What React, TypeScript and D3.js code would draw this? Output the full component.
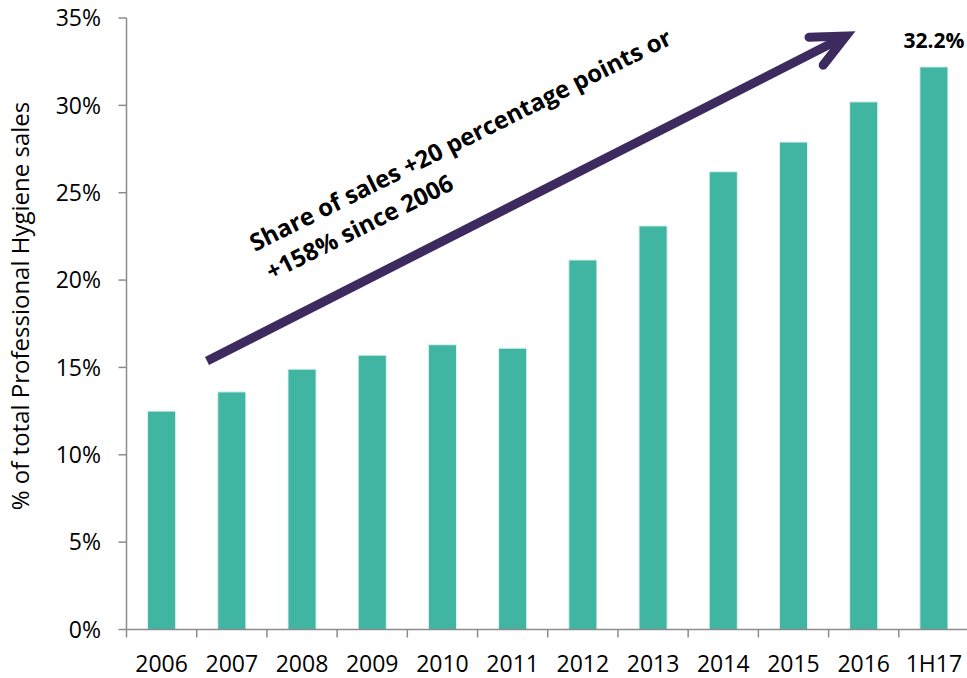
import React from "react";
import * as d3 from "d3";

const categories = ["2006", "2007", "2008", "2009", "2010", "2011", "2012", "2013", "2014", "2015", "2016", "1H17"];
const values = [12.5, 13.6, 14.9, 15.7, 16.3, 16.1, 21.15, 23.1, 26.2, 27.9, 30.2, 32.2];
const yTicks = [0, 5, 10, 15, 20, 25, 30, 35];
const yTitle = "% of total Professional Hygiene sales";
const annotationLines = ["Share of sales +20 percentage points or", "+158% since 2006"];
const lastLabel = "32.2%";

const W = 967;
const H = 678;
const FONT = "'Open Sans', sans-serif";
const BAR = "#40B5A2";
const AXIS = "#8c8c8c";
const ARROW = "#3D2A5E";

export default function App() {
  const x = d3.scaleBand<string>().domain(categories).range([126.5, 969]).paddingInner(0.6).paddingOuter(0.3);
  const y = d3.scaleLinear().domain([0, 35]).range([629.5, 18]);
  const step = x.step();
  const x0 = 126.5;

  // arrow geometry
  const start = [207, 361];
  const tip = [846, 36];
  const ang = Math.atan2(tip[1] - start[1], tip[0] - start[0]);
  const back = ang + Math.PI;
  const armLen = 37;
  const spread = (25 * Math.PI) / 180;
  const a1 = [tip[0] + armLen * Math.cos(back - spread), tip[1] + armLen * Math.sin(back - spread)];
  const a2 = [tip[0] + armLen * Math.cos(back + spread), tip[1] + armLen * Math.sin(back + spread)];
  const textAngle = -26.5;

  return (
    <svg width={W} height={H} style={{ position: "absolute", left: 0, top: 0 }} fontFamily={FONT}>
      {categories.map((c, i) => (
        <rect
          key={c}
          x={x(c)}
          y={y(values[i])}
          width={x.bandwidth()}
          height={y(0) - y(values[i])}
          fill={BAR}
          stroke="#dff1ee"
          strokeWidth={1}
        />
      ))}
      <line x1={x0} x2={x0} y1={y(35)} y2={y(0)} stroke={AXIS} strokeWidth={1.5} />
      {yTicks.map((t) => (
        <g key={t}>
          <line x1={x0 - 8} x2={x0} y1={y(t)} y2={y(t)} stroke={AXIS} strokeWidth={1.5} />
          <text x={101} y={y(t)} dy="0.36em" textAnchor="end" fontSize={23} fill="#000">
            {t}%
          </text>
        </g>
      ))}
      <line x1={x0} x2={W} y1={y(0)} y2={y(0)} stroke={AXIS} strokeWidth={1.5} />
      {categories.map((c, i) => (
        <line key={"t" + c} x1={x0 + i * step} x2={x0 + i * step} y1={y(0)} y2={y(0) + 8} stroke={AXIS} strokeWidth={1.5} />
      ))}
      {categories.map((c) => (
        <text key={"l" + c} x={(x(c) as number) + x.bandwidth() / 2} y={672} textAnchor="middle" fontSize={23} fill="#000">
          {c}
        </text>
      ))}
      <text transform="translate(29,306) rotate(-90)" textAnchor="middle" fontSize={24} fill="#000">
        {yTitle}
      </text>
      <text
        x={(x(categories[categories.length - 1]) as number) + x.bandwidth() / 2}
        y={48}
        textAnchor="middle"
        fontSize={21}
        fontWeight="bold"
        fill="#000"
      >
        {lastLabel}
      </text>
      <line x1={start[0]} y1={start[1]} x2={tip[0] - 4 * Math.cos(ang)} y2={tip[1] - 4 * Math.sin(ang)} stroke={ARROW} strokeWidth={9} />
      <path
        d={`M${a1[0]},${a1[1]} L${tip[0]},${tip[1]} L${a2[0]},${a2[1]}`}
        fill="none"
        stroke={ARROW}
        strokeWidth={9}
        strokeLinecap="round"
        strokeLinejoin="miter"
      />
      <g transform={`translate(255,252) rotate(${textAngle})`}>
        {annotationLines.map((l, i) => (
          <text key={i} x={i === 0 ? 0 : 2} y={i * 33} fontSize={24} fontWeight="bold" fill="#000">
            {l}
          </text>
        ))}
      </g>
    </svg>
  );
}
